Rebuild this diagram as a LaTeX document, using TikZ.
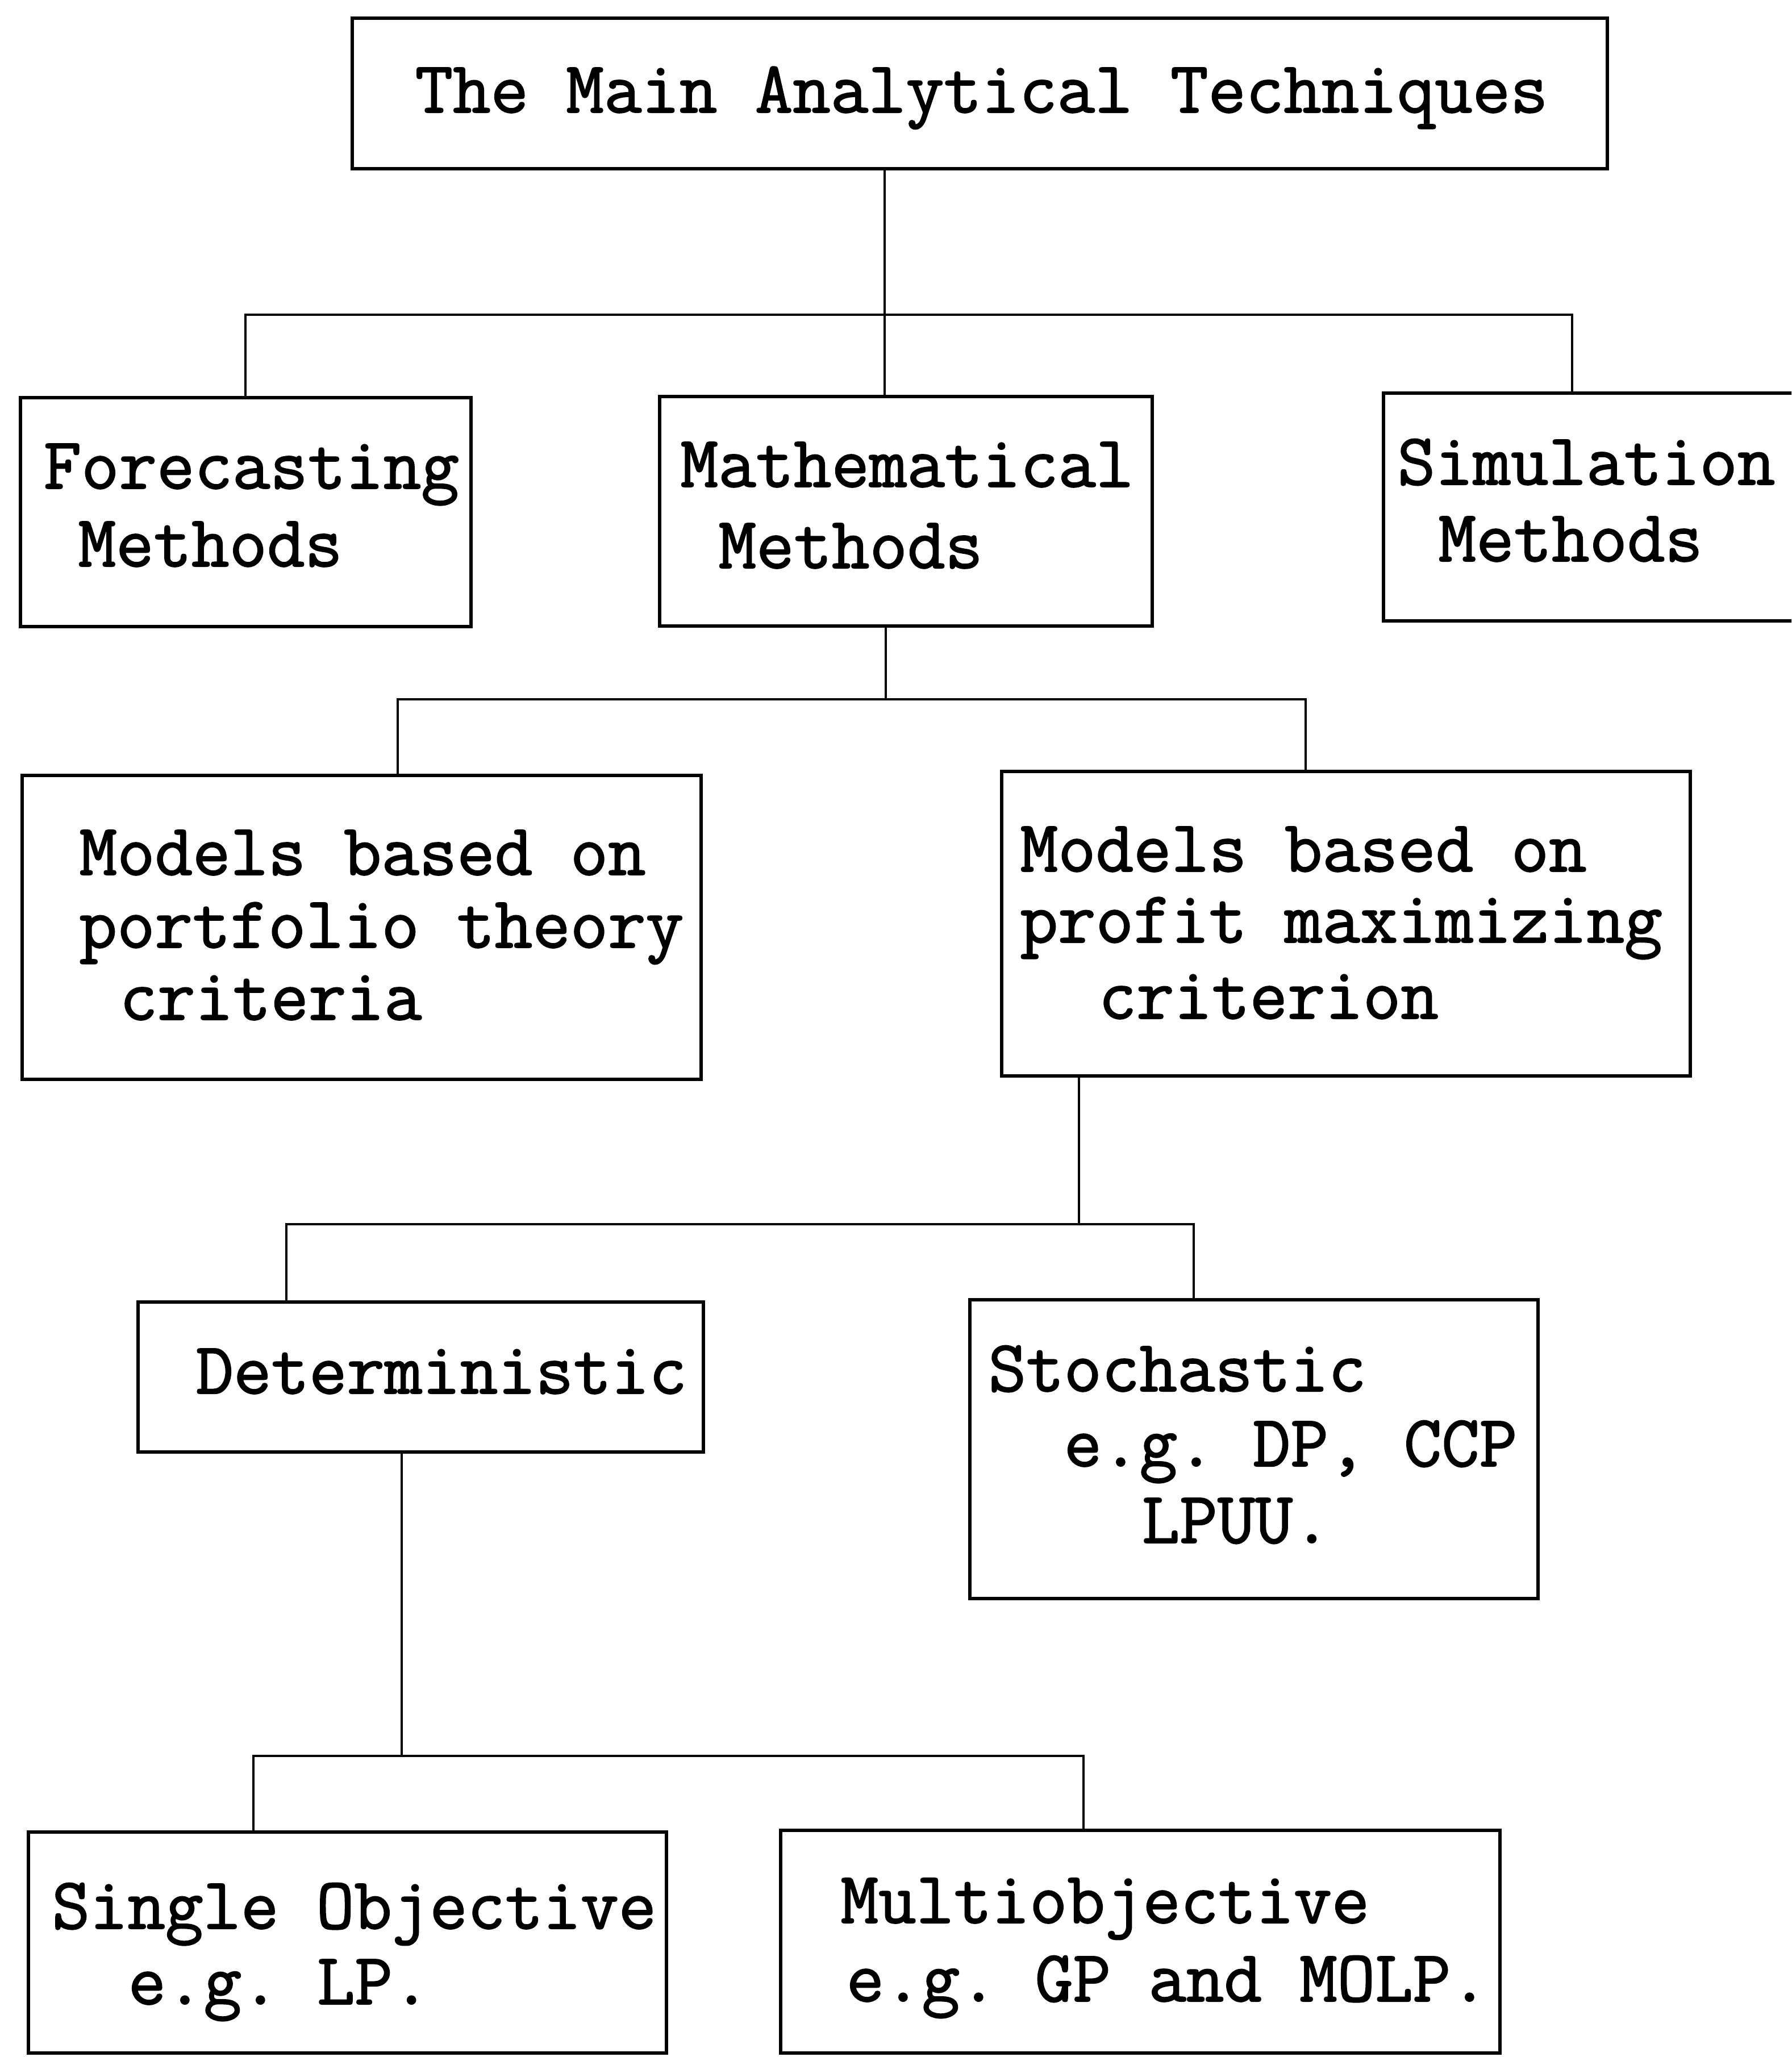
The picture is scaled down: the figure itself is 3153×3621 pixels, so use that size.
\documentclass[tikz,border=0pt]{standalone}
\usepackage{fontspec}
\usetikzlibrary{fit}
\newfontfamily\typew[FakeBold=1.6]{Latin Modern Mono}
\frenchspacing
\tikzset{
  box/.style={draw, line width=1.8pt, inner sep=0pt, rectangle},
  conn/.style={line width=1.3pt},
  txt/.style={anchor=base west, inner sep=0pt, font=\typew\fontsize{36.7pt}{40pt}\selectfont\frenchspacing}
}
\begin{document}
\begin{tikzpicture}[x=0.01cm,y=-0.01cm]
\clip (0,0) rectangle (3153,3621);
\fill[white] (0,0) rectangle (3153,3621);
% boxes
\node[box, fit={(620,32) (2829,297)}] (top) {};
\node[box, fit={(36,700) (829,1103)}] (fore) {};
\node[box, fit={(1161,698) (2028,1102)}] (math) {};
\node[box, fit={(2435,692) (3200,1093)}] (simu) {};
\node[box, fit={(39,1365) (1234,1900)}] (port) {};
\node[box, fit={(1763,1358) (2975,1894)}] (prof) {};
\node[box, fit={(243,2292) (1238,2556)}] (det) {};
\node[box, fit={(1707,2288) (2707,2814)}] (stoc) {};
\node[box, fit={(50,3225) (1173,3614)}] (single) {};
\node[box, fit={(1374,3222) (2640,3614)}] (multi) {};
% texts
\node[txt] (t0) at (730,198) {The Main Analytical Techniques};
\node[txt] (f1) at (76,860) {Forecasting};
\node[txt] (f2) at (137,997) {Methods};
\node[txt] (m1) at (1197,857) {Mathematical};
\node[txt] (m2) at (1264,1000) {Methods};
\node[txt] (s1) at (2459,853) {Simulation};
\node[txt] (s2) at (2531,988) {Methods};
\node[txt] (p1) at (139,1540) {Models based on};
\node[txt] (p2) at (139,1668) {portfolio theory};
\node[txt] (p3) at (210,1795) {criteria};
\node[txt] (q1) at (1795,1534) {Models based on};
\node[txt] (q2) at (1795,1659) {profit maximizing};
\node[txt] (q3) at (1933,1793) {criterion};
\node[txt] (d1) at (344,2453) {Deterministic};
\node[txt] (st1) at (1739,2449) {Stochastic};
\node[txt] (st2) at (1872,2581) {e.g. DP, CCP};
\node[txt] (st3) at (2009,2716) {LPUU.};
\node[txt] (g1) at (91,3395) {Single Objective};
\node[txt] (g2) at (225,3528) {e.g. LP.};
\node[txt] (h1) at (1479,3385) {Multiobjective};
\node[txt] (h2) at (1489,3523) {e.g. GP and MOLP.};
% connector coordinates
\coordinate (j1) at (1557,554);
\coordinate (xa) at (432,0);
\coordinate (xc) at (2767,0);
\coordinate (j2) at (1559,1231);
\coordinate (xd) at (700,0);
\coordinate (xe) at (2298,0);
\coordinate (j3) at (1899,2155);
\coordinate (xf) at (504,0);
\coordinate (xg) at (2101,0);
\coordinate (j4) at (707,3091);
\coordinate (xh) at (446,0);
\coordinate (xi) at (1907,0);
% connectors
\draw[conn] (top.south -| j1) -- (j1) -- (j1 |- math.north);
\draw[conn] (xa |- fore.north) |- (j1) -| (xc |- simu.north);
\draw[conn] (math.south -| j2) -- (j2);
\draw[conn] (xd |- port.north) |- (j2) -| (xe |- prof.north);
\draw[conn] (prof.south -| j3) -- (j3);
\draw[conn] (xf |- det.north) |- (j3) -| (xg |- stoc.north);
\draw[conn] (det.south -| j4) -- (j4);
\draw[conn] (xh |- single.north) |- (j4) -| (xi |- multi.north);
\end{tikzpicture}
\end{document}
